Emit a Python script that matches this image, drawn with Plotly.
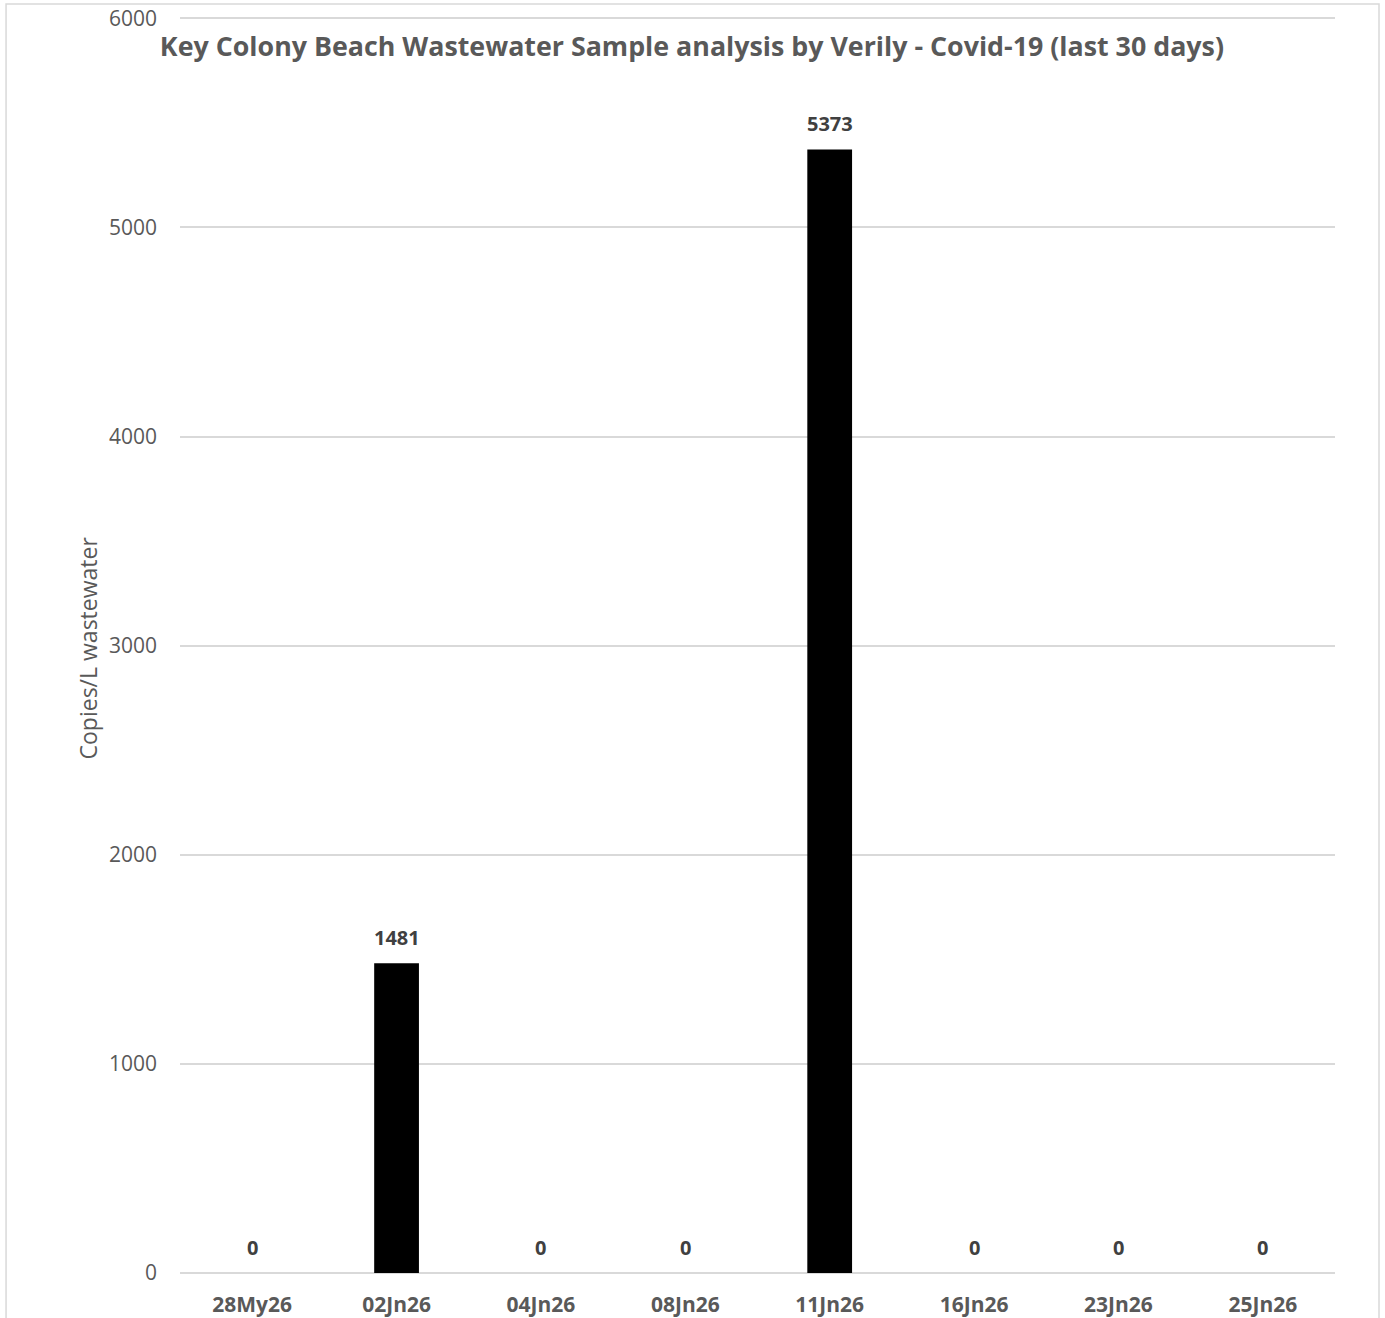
import plotly.graph_objects as go

categories = ["28My26", "02Jn26", "04Jn26", "08Jn26", "11Jn26", "16Jn26", "23Jn26", "25Jn26"]
values = [0, 1481, 0, 0, 5373, 0, 0, 0]
y_ticks = [0, 1000, 2000, 3000, 4000, 5000, 6000]

title_text = "Key Colony Beach Wastewater Sample analysis by Verily - Covid-19 (last 30 days)"
y_title = "Copies/L wastewater"

FONT = "Open Sans"
GREY = "#595959"

W, H = 1385, 1318

fig = go.Figure()
fig.add_trace(go.Bar(
    x=categories, y=values,
    marker=dict(color="#000000", line=dict(width=0)),
    width=0.31,
    hoverinfo="x+y",
))

annotations = []
for c, v in zip(categories, values):
    annotations.append(dict(
        x=c, y=v, xref="x", yref="y", text=f"<b>{v}</b>", showarrow=False,
        yanchor="bottom", yshift=10,
        font=dict(family=FONT, size=20, color="#404040"),
    ))
annotations.append(dict(
    x=-0.0797, y=0.498, xref="paper", yref="paper", text=y_title,
    showarrow=False, textangle=-90, xanchor="center", yanchor="middle",
    font=dict(family=FONT, size=23, color=GREY),
))

fig.update_layout(
    width=W, height=H,
    margin=dict(l=180, r=50, t=17, b=45),
    paper_bgcolor="white", plot_bgcolor="white",
    showlegend=False,
    title=dict(text=f"<b>{title_text}</b>", x=0.4996, xref="container", xanchor="center",
               y=1 - 47 / H, yref="container", yanchor="middle",
               font=dict(family=FONT, size=26.8, color=GREY)),
    annotations=annotations,
    shapes=[dict(type="rect", xref="paper", yref="paper",
                 x0=-0.1506, x1=1.0381, y0=-0.2, y1=1.0104,
                 line=dict(color="#d9d9d9", width=1.5), fillcolor="rgba(0,0,0,0)",
                 layer="below")],
)
fig.update_xaxes(
    type="category", categoryorder="array", categoryarray=categories,
    showgrid=False, showline=False, ticks="", zeroline=False, automargin=False,
    tickfont=dict(family=FONT, size=21, color=GREY),
    ticklabelstandoff=17,
    tickprefix="<b>", ticksuffix="</b>",
)
fig.update_yaxes(
    range=[0, 6006], tickvals=y_ticks, showgrid=True, gridcolor="#d9d9d9", gridwidth=1.5,
    zeroline=True, zerolinecolor="#d9d9d9", zerolinewidth=1.5, automargin=False,
    showline=False, ticks="",
    tickfont=dict(family=FONT, size=21, color=GREY),
    ticklabelstandoff=22,
)

fig.write_html("out.html", config={"displayModeBar": False},
               post_script="document.body.style.margin='0';")
